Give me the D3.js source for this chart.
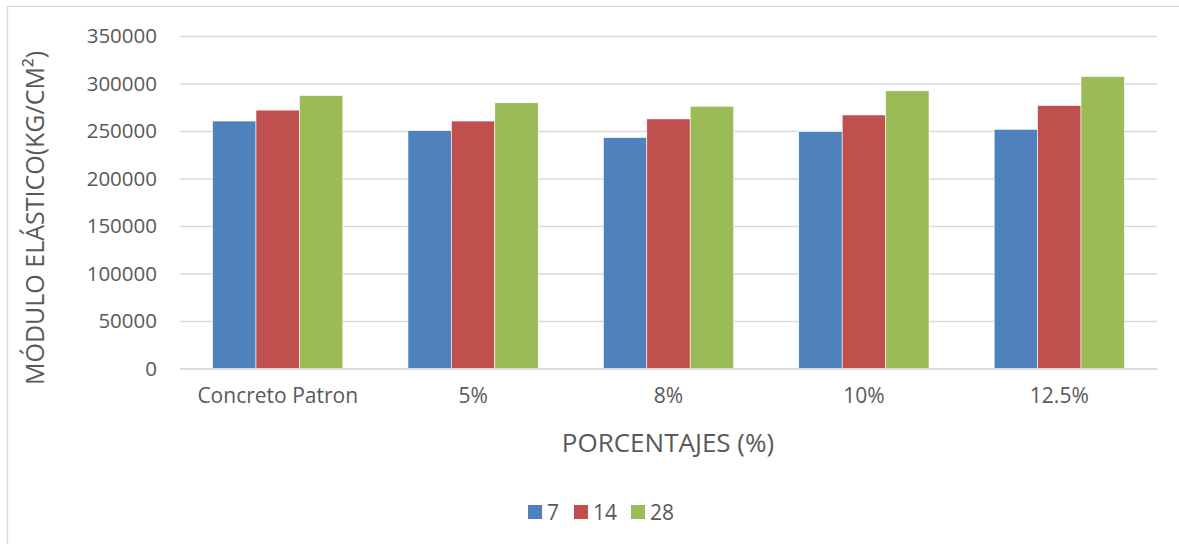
<!DOCTYPE html>
<html>
<head>
<meta charset="utf-8">
<script src="https://cdn.jsdelivr.net/npm/d3@7"></script>
<style>
  html, body { margin: 0; padding: 0; background: #fff; }
  svg { display: block; }
  text { font-family: "Open Sans", "Noto Sans", sans-serif; fill: #595959; }
</style>
</head>
<body>
<svg id="chart" width="1179" height="544"></svg>
<script>
const categories = ["Concreto Patron", "5%", "8%", "10%", "12.5%"];
const seriesNames = ["7", "14", "28"];
const values7 = [260500, 250400, 243000, 249300, 251800];
const values14 = [272000, 260500, 262700, 266900, 276800];
const values28 = [287400, 279700, 276100, 292300, 307400];
const yTicks = [0, 50000, 100000, 150000, 200000, 250000, 300000, 350000];
const colors = ["#4F81BD", "#C0504D", "#9BBB59"];
const xTitle = "PORCENTAJES (%)";
const yTitle = "MÓDULO ELÁSTICO(KG/CM²)";

const seriesValues = [values7, values14, values28];

const svg = d3.select("#chart");

// outer chart border (cut off at right/bottom)
svg.append("rect")
  .attr("x", 7.5).attr("y", 6.5)
  .attr("width", 1300).attr("height", 700)
  .attr("fill", "none").attr("stroke", "#d9d9d9").attr("stroke-width", 1.3);

const plotLeft = 180, plotRight = 1157, plotTop = 36, plotBottom = 368.5;

const x0 = d3.scaleBand().domain(categories).range([plotLeft, plotRight]).padding(0);
const bw = x0.bandwidth();
const barW = bw / 4.5;
const x1 = d3.scaleBand().domain(seriesNames)
  .range([(bw - 3 * barW) / 2, (bw + 3 * barW) / 2]).padding(0);
const y = d3.scaleLinear().domain([0, 350000]).range([plotBottom, plotTop]);

// gridlines + y tick labels via axis
const yAxis = d3.axisLeft(y).tickValues(yTicks).tickSize(-(plotRight - plotLeft)).tickPadding(23).tickFormat(d3.format("d"));
const gy = svg.append("g").attr("transform", `translate(${plotLeft},0)`).call(yAxis);
gy.select(".domain").remove();
gy.selectAll(".tick line").attr("stroke", "#d9d9d9").attr("stroke-width", 1.3);
gy.selectAll(".tick text")
  .attr("fill", "#595959")
  .style("font-family", '"Open Sans", sans-serif')
  .style("font-size", "20.5px");

// bars
const groups = svg.append("g").selectAll("g")
  .data(categories)
  .join("g")
  .attr("transform", d => `translate(${x0(d)},0)`);

groups.selectAll("rect")
  .data((c, i) => seriesNames.map((s, k) => ({ s, k, v: seriesValues[k][i] })))
  .join("rect")
  .attr("x", d => x1(d.s))
  .attr("width", x1.bandwidth())
  .attr("y", d => y(d.v))
  .attr("height", d => y(0) - y(d.v))
  .attr("fill", d => colors[d.k])
  .attr("stroke", "#ffffff").attr("stroke-width", 0.6);

// x axis
const xAxis = d3.axisBottom(x0).tickSize(0).tickPadding(20);
const gx = svg.append("g").attr("transform", `translate(0,${plotBottom})`).call(xAxis);
gx.select(".domain").attr("stroke", "#d9d9d9").attr("stroke-width", 1.5);
gx.selectAll(".tick text")
  .attr("fill", "#595959")
  .style("font-family", '"Open Sans", sans-serif')
  .style("font-size", "21px");

// axis titles
svg.append("text")
  .attr("x", 668).attr("y", 452)
  .attr("text-anchor", "middle")
  .style("font-size", "26px")
  .text(xTitle);

svg.append("text")
  .attr("transform", `translate(44,218) rotate(-90)`)
  .attr("text-anchor", "middle")
  .style("font-size", "25px")
  .text(yTitle);

// legend
const legendItems = [
  { name: seriesNames[0], x: 528 },
  { name: seriesNames[1], x: 574 },
  { name: seriesNames[2], x: 631 }
];
const lg = svg.append("g").selectAll("g").data(legendItems).join("g")
  .attr("transform", d => `translate(${d.x},505)`);
lg.append("rect").attr("width", 14).attr("height", 14)
  .attr("fill", (d, i) => colors[i]);
lg.append("text").attr("x", 19).attr("y", 14.5)
  .style("font-size", "21px")
  .text(d => d.name);
</script>
</body>
</html>
